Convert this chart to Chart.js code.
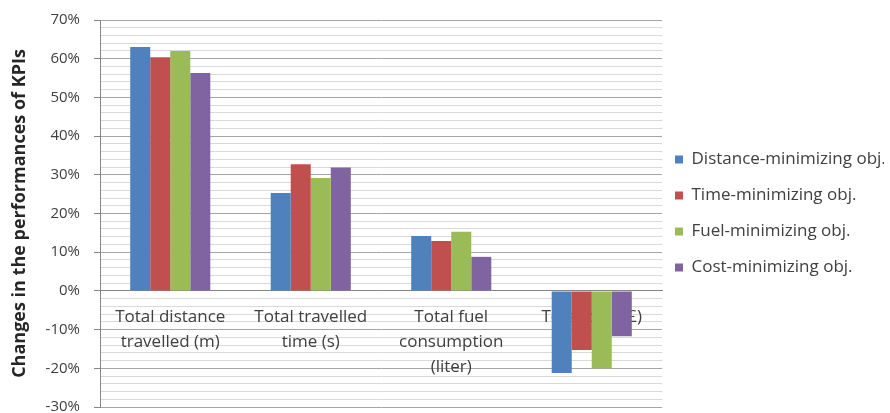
<!DOCTYPE html>
<html>
<head>
<meta charset="utf-8">
<script src="https://cdn.jsdelivr.net/npm/chart.js@4.4.1/dist/chart.umd.min.js"></script>
<style>
  body { margin: 0; background: #fff; }
  #wrap { width: 890px; height: 413px; }
</style>
</head>
<body>
<div id="wrap"><canvas id="myChart"></canvas></div>
<script>
// categories (x axis) and the four objective series
var categories = [
    ['Total distance', 'travelled (m)'],
    ['Total travelled', 'time (s)'],
    ['Total fuel', 'consumption', '(liter)'],
    'Total cost (\u00a3)'
];
var seriesNames = ['Distance-minimizing obj.', 'Time-minimizing obj.', 'Fuel-minimizing obj.', 'Cost-minimizing obj.'];
var distanceObj = [63.0, 25.3, 14.2, -21.2];
var timeObj = [60.4, 32.7, 12.9, -15.3];
var fuelObj = [62.0, 29.2, 15.3, -20.0];
var costObj = [56.3, 31.9, 8.8, -11.7];
var yMin = -30, yMax = 70;

var colors = ['#4F81BD', '#C0504D', '#9BBB59', '#8064A2'];

window.onload = function () {
    var ctx = document.getElementById('myChart').getContext('2d');

    var seriesData = [distanceObj, timeObj, fuelObj, costObj];
    var datasets = seriesData.map(function (d, i) {
        return {
            label: seriesNames[i],
            data: d,
            backgroundColor: colors[i],
            borderWidth: 0,
            categoryPercentage: 0.57,
            barPercentage: 1.0
        };
    });

    // nudge legend a bit left so it sits next to the plot like Excel
    var legendShift = {
        id: 'legendShift',
        afterLayout: function (chart) {
            chart.legend.left -= 6;
            chart.legend.right -= 6;
        }
    };

    new Chart(ctx, {
        type: 'bar',
        data: { labels: categories, datasets: datasets },
        plugins: [legendShift],
        options: {
            responsive: true,
            maintainAspectRatio: false,
            animation: false,
            layout: { padding: { left: 0, top: 20, bottom: 6, right: 0 } },
            plugins: {
                tooltip: { enabled: false },
                legend: {
                    position: 'right',
                    maxWidth: 228,
                    labels: {
                        boxWidth: 8,
                        boxHeight: 8,
                        padding: 19,
                        color: '#404040',
                        font: { family: 'Open Sans', size: 17 }
                    }
                }
            },
            scales: {
                x: {
                    position: { y: 0 },
                    grid: { display: false },
                    border: { color: '#868686', width: 1 },
                    ticks: {
                        autoSkip: false,
                        maxRotation: 0,
                        padding: 6,
                        color: '#404040',
                        font: { family: 'Open Sans', size: 17, lineHeight: '25px' }
                    }
                },
                y: {
                    min: yMin,
                    max: yMax,
                    afterFit: function (scale) {
                        scale.width = 100;
                        scale.paddingTop = 0;
                        scale.paddingBottom = 0;
                    },
                    title: {
                        display: true,
                        text: 'Changes in the performances of KPIs',
                        color: '#262626',
                        padding: { top: 9, bottom: 0 },
                        font: { family: 'Open Sans', size: 18, weight: 'bold' }
                    },
                    border: { color: '#868686', width: 1 },
                    grid: {
                        drawTicks: true,
                        tickLength: 6,
                        color: function (c) {
                            return c.tick && c.tick.value % 10 === 0 ? '#a6a6a6' : '#d9d9d9';
                        },
                        tickColor: function (c) {
                            return c.tick && c.tick.value % 10 === 0 ? '#868686' : 'rgba(0,0,0,0)';
                        }
                    },
                    ticks: {
                        stepSize: 2,
                        autoSkip: false,
                        padding: 14,
                        color: '#404040',
                        font: { family: 'Open Sans', size: 15 },
                        callback: function (v) {
                            return v % 10 === 0 ? v + '%' : '';
                        }
                    }
                }
            }
        }
    });
};
</script>
</body>
</html>
